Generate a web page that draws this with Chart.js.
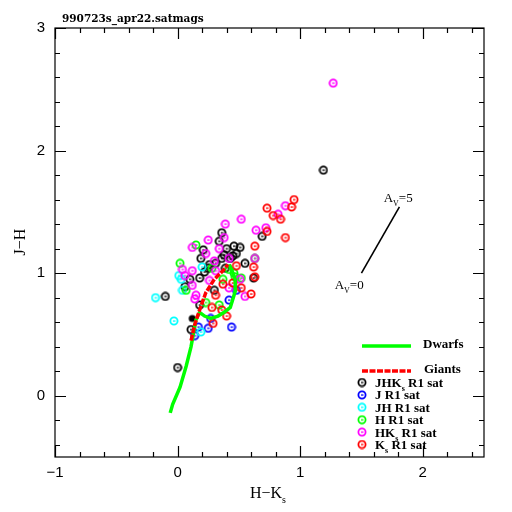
<!DOCTYPE html>
<html>
<head>
<meta charset="utf-8">
<script src="https://cdn.jsdelivr.net/npm/chart.js@4/dist/chart.umd.min.js"></script>
<style>
  html, body { margin: 0; padding: 0; background: #fff; }
  #wrap { width: 512px; height: 512px; }
</style>
</head>
<body>
<div id="wrap"><canvas id="ccd" width="512" height="512"></canvas></div>
<script>
// axis ranges and tick labels
const xRange = [-1, 2.5];
const yRange = [-0.5, 3];
const xTickLabels = [-1, 0, 1, 2];
const yTickLabels = [0, 1, 2, 3];

// JHKs R1 sat (black)
const jhkX = [1.19, 0.69, 0.46, 0.51, 0.36, 0.34, 0.48, 0.45, 0.38, 0.36, 0.40, 0.21, 0.19, 0.31, 0.26, 0.55, 0.22, 0.39, 0.18, 0.10, 0.06, 0.30, 0.18, -0.10, 0.11, 0.00, 0.62, 0.25, 0.43];
const jhkY = [1.84, 1.30, 1.22, 1.21, 1.33, 1.26, 1.16, 1.14, 1.15, 1.12, 1.20, 1.19, 1.12, 1.08, 1.07, 1.08, 1.01, 1.04, 0.96, 0.95, 0.89, 0.86, 0.74, 0.81, 0.54, 0.23, 0.96, 1.04, 1.12];
const jhkFilledX = [0.12];
const jhkFilledY = [0.63];
// J R1 sat (blue)
const jX = [0.42, 0.48, 0.27, 0.17, 0.25, 0.44, 0.14];
const jY = [0.78, 0.86, 0.63, 0.56, 0.55, 0.56, 0.49];
// JH R1 sat (cyan)
const jhX = [-0.18, -0.03, 0.19, 0.01, 0.03, 0.20, 0.04];
const jhY = [0.80, 0.61, 0.52, 0.98, 0.95, 1.05, 0.86];
// H R1 sat (green)
const hX = [0.02, 0.15, 0.28, 0.07, 0.34, 0.23, 0.37, 0.42, 0.46, 0.47, 0.63, 0.52];
const hY = [1.08, 1.23, 1.04, 0.86, 0.74, 0.76, 0.95, 1.03, 1.00, 0.97, 1.12, 0.96];
// HKs R1 sat (magenta)
const hkX = [1.27, 0.52, 0.39, 0.64, 0.72, 0.88, 0.82, 0.38, 0.25, 0.12, 0.23, 0.34, 0.30, 0.42, 0.63, 0.04, 0.12, 0.31, 0.51, 0.06, 0.26, 0.12, 0.15, 0.14, 0.42, 0.55];
const hkY = [2.55, 1.44, 1.40, 1.35, 1.37, 1.55, 1.48, 1.29, 1.27, 1.21, 1.16, 1.20, 1.10, 1.12, 1.12, 1.03, 1.02, 1.02, 0.95, 0.98, 0.94, 0.90, 0.82, 0.79, 0.88, 0.81];
// Ks R1 sat (red)
const kX = [0.95, 0.93, 0.73, 0.78, 0.84, 0.73, 0.88, 0.63, 0.62, 0.63, 0.52, 0.60, 0.48, 0.45, 0.37, 0.31, 0.29, 0.40, 0.28, 0.36];
const kY = [1.60, 1.54, 1.53, 1.47, 1.44, 1.34, 1.29, 1.22, 1.05, 0.97, 0.88, 0.83, 1.06, 0.92, 0.91, 0.82, 0.59, 0.65, 0.72, 0.70];

// intrinsic sequences
const dwarfX = [-0.06, -0.04, 0.02, 0.07, 0.11, 0.13, 0.15, 0.18, 0.22, 0.27, 0.33, 0.38, 0.43, 0.47, 0.47, 0.44, 0.42];
const dwarfY = [-0.14, -0.07, 0.07, 0.24, 0.40, 0.51, 0.62, 0.68, 0.65, 0.63, 0.65, 0.68, 0.72, 0.85, 0.95, 1.03, 1.07];
const giantX = [0.11, 0.14, 0.18, 0.23, 0.30, 0.38, 0.41];
const giantY = [0.45, 0.58, 0.70, 0.84, 0.95, 1.03, 1.07];

// reddening vector A_V = 0 .. 5
const avX = [1.50, 1.81];
const avY = [1.00, 1.54];

const zip = (xs, ys) => xs.map((x, i) => ({ x: x, y: ys[i] }));

// small PGPLOT-ish open circle marker
function makeMarker(color, filled) {
    const c = document.createElement('canvas');
    c.width = 10; c.height = 10;
    const g = c.getContext('2d');
    g.strokeStyle = color;
    g.fillStyle = color;
    g.lineWidth = 1.8;
    g.beginPath();
    g.arc(5, 5, 3.6, 0, Math.PI * 2);
    if (filled) g.fill(); else g.stroke();
    if (!filled) {
        g.fillRect(4, 4.4, 2.5, 1.3);
    }
    return c;
}

function scatterSet(label, xs, ys, color, filled) {
    return {
        label: label,
        data: zip(xs, ys),
        pointStyle: makeMarker(color, filled),
        pointRadius: 4,
        borderColor: color,
        backgroundColor: color,
        showLine: false,
        order: 3
    };
}

function lineSet(label, xs, ys, color, width, dash, order) {
    return {
        label: label,
        data: zip(xs, ys),
        showLine: true,
        borderColor: color,
        borderWidth: width,
        borderDash: dash || [],
        borderCapStyle: 'butt',
        pointRadius: 0,
        fill: false,
        tension: 0,
        order: order
    };
}

// draw text with optional subscript pieces: [[text, isSub], ...]
function drawParts(ctx, parts, x, y, size, family, align, weight) {
    const w = weight ? weight + ' ' : '';
    const sub = Math.round(size * 0.6);
    let total = 0;
    parts.forEach(p => {
        ctx.font = w + (p[1] ? sub : size) + 'px ' + family;
        total += ctx.measureText(p[0]).width;
    });
    let cx = align === 'center' ? x - total / 2 : x;
    ctx.textAlign = 'left';
    ctx.textBaseline = 'alphabetic';
    parts.forEach(p => {
        ctx.font = w + (p[1] ? sub : size) + 'px ' + family;
        ctx.fillText(p[0], cx, p[1] ? y + size * 0.3 : y);
        cx += ctx.measureText(p[0]).width;
    });
}

const legendRows = [
    { color: '#000000', parts: [['JHK', false], ['s', true], [' R1 sat', false]] },
    { color: '#0000ff', parts: [['J R1 sat', false]] },
    { color: '#00ffff', parts: [['JH R1 sat', false]] },
    { color: '#00ff00', parts: [['H R1 sat', false]] },
    { color: '#ff00ff', parts: [['HK', false], ['s', true], [' R1 sat', false]] },
    { color: '#ff0000', parts: [['K', false], ['s', true], [' R1 sat', false]] }
];

// frame, inward ticks, labels and legend (PGPLOT look)
const framePlugin = {
    id: 'frame',
    afterDraw(chart) {
        const ctx = chart.ctx;
        const xs = chart.scales.x, ys = chart.scales.y;
        const a = chart.chartArea;
        ctx.save();
        ctx.strokeStyle = '#000';
        ctx.fillStyle = '#000';
        ctx.lineWidth = 1.2;
        ctx.strokeRect(a.left, a.top, a.right - a.left, a.bottom - a.top);

        ctx.beginPath();
        for (let i = 0; i <= 35; i += 2) {
            const v = xRange[0] + i * 0.1;
            const px = Math.round(xs.getPixelForValue(v)) + 0.5;
            const len = (Math.abs(v - Math.round(v)) < 1e-6) ? 11 : 5;
            ctx.moveTo(px, a.bottom); ctx.lineTo(px, a.bottom - len);
            ctx.moveTo(px, a.top); ctx.lineTo(px, a.top + len);
        }
        for (let i = 0; i <= 35; i++) {
            const v = yRange[0] + i * 0.1;
            if (Math.abs(v * 5 - Math.round(v * 5)) > 1e-6) continue;
            const py = Math.round(ys.getPixelForValue(v)) + 0.5;
            const len = (Math.abs(v - Math.round(v)) < 1e-6) ? 11 : 5;
            ctx.moveTo(a.left, py); ctx.lineTo(a.left + len, py);
            ctx.moveTo(a.right, py); ctx.lineTo(a.right - len, py);
        }
        ctx.stroke();

        // tick labels
        ctx.font = '15px "Liberation Sans"';
        ctx.textAlign = 'center';
        ctx.textBaseline = 'middle';
        xTickLabels.forEach(v => {
            ctx.fillText(String(v).replace('-', '\u2212'), xs.getPixelForValue(v), a.bottom + 16);
        });
        ctx.textAlign = 'right';
        yTickLabels.forEach(v => {
            ctx.fillText(String(v), a.left - 10, ys.getPixelForValue(v));
        });

        // axis titles
        const serif = '"Liberation Serif"';
        drawParts(ctx, [['H\u2212K', false], ['s', true]], 268, 498, 16, serif, 'center');
        ctx.save();
        ctx.translate(25, 242);
        ctx.rotate(-Math.PI / 2);
        drawParts(ctx, [['J\u2212H', false]], 0, 0, 16, serif, 'center');
        ctx.restore();

        // file title
        ctx.font = 'bold 10.5px "DejaVu Serif"';
        ctx.textAlign = 'left';
        ctx.textBaseline = 'alphabetic';
        ctx.fillText('990723s_apr22.satmags', 62, 22);

        // reddening vector labels
        drawParts(ctx, [['A', false], ['V', true], ['=5', false]],
            xs.getPixelForValue(1.80), ys.getPixelForValue(1.58), 13, serif, 'center');
        drawParts(ctx, [['A', false], ['V', true], ['=0', false]],
            xs.getPixelForValue(1.40), ys.getPixelForValue(0.87), 13, serif, 'center');

        // legend
        ctx.lineWidth = 3.5;
        ctx.strokeStyle = '#00ff00';
        ctx.beginPath(); ctx.moveTo(362, 346); ctx.lineTo(411, 346); ctx.stroke();
        ctx.strokeStyle = '#ff0000';
        ctx.setLineDash([6, 1.5]);
        ctx.beginPath(); ctx.moveTo(362, 371); ctx.lineTo(411, 371); ctx.stroke();
        ctx.setLineDash([]);
        ctx.font = 'bold 13px ' + serif;
        ctx.fillStyle = '#000';
        ctx.fillText('Dwarfs', 423, 348);
        ctx.fillText('Giants', 424, 373);
        legendRows.forEach((r, i) => {
            const yy = 382.5 + i * 12.4;
            ctx.drawImage(makeMarker(r.color, false), 357, yy - 5);
            ctx.fillStyle = '#000';
            drawParts(ctx, r.parts, 375, yy + 4.5, 13, serif, 'left', 'bold');
        });
        ctx.restore();
    }
};

new Chart(document.getElementById('ccd'), {
    type: 'scatter',
    data: {
        datasets: [
            lineSet('Giants', giantX, giantY, '#ff0000', 3.5, [6, 1.5], 0),
            lineSet('Dwarfs', dwarfX, dwarfY, '#00ff00', 3.5, [], 1),
            lineSet('A_V', avX, avY, '#000000', 1.6, [], 1),
            scatterSet('Ks R1 sat', kX, kY, '#ff0000'),
            scatterSet('HKs R1 sat', hkX, hkY, '#ff00ff'),
            scatterSet('H R1 sat', hX, hY, '#00ff00'),
            scatterSet('JH R1 sat', jhX, jhY, '#00ffff'),
            scatterSet('J R1 sat', jX, jY, '#0000ff'),
            scatterSet('JHKs R1 sat', jhkX, jhkY, '#000000'),
            scatterSet('JHKs R1 sat (filled)', jhkFilledX, jhkFilledY, '#000000', true)
        ]
    },
    options: {
        responsive: false,
        animation: false,
        devicePixelRatio: 1,
        layout: { padding: { left: 55, right: 28, top: 28, bottom: 55 } },
        plugins: { legend: { display: false }, tooltip: { enabled: false } },
        scales: {
            x: { type: 'linear', min: xRange[0], max: xRange[1], display: false },
            y: { type: 'linear', min: yRange[0], max: yRange[1], display: false }
        }
    },
    plugins: [framePlugin]
});
</script>
</body>
</html>
